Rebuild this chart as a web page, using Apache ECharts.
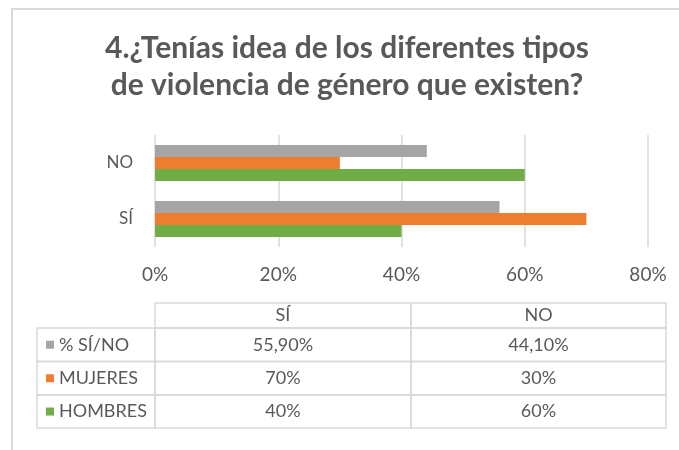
<!DOCTYPE html>
<html><head><meta charset="utf-8">
<script src="https://cdn.jsdelivr.net/npm/echarts@6/dist/echarts.min.js"></script>
<style>html,body{margin:0;padding:0;background:#fff}#c{width:679px;height:450px}</style>
</head><body><div id="c"></div>
<script>
// ---- data ----
const titleLines = ['4.¿Tenías idea de los diferentes tipos', 'de violencia de género que existen?'];
const categories = ['SÍ', 'NO'];
const seriesNames = ['% SÍ/NO', 'MUJERES', 'HOMBRES'];
const pctSiNo = [55.9, 44.1];
const mujeres = [70, 30];
const hombres = [40, 60];
const xTicks = [0, 20, 40, 60, 80];

// ---- style ----
const colors = ['#A5A5A5', '#ED7D31', '#70AD47'];
const txt = '#595959';
const lineC = '#D9D9D9';
const font = 'Lato, "Open Sans", sans-serif';
const seriesValues = [pctSiNo, mujeres, hombres];

function fmt(v) {
  return Number.isInteger(v) ? v + '%' : v.toFixed(2).replace('.', ',') + '%';
}

const chart = echarts.init(document.getElementById('c'), null, {renderer: 'canvas'});

// table geometry
const tX0 = 37, tX1 = 155, tX2 = 411, tX3 = 666;
const hdrY = 303, rowY = [328, 361.5, 395, 428];
const g = [];
// outer frame
g.push({type: 'rect', shape: {x: 12, y: 9, width: 700, height: 500}, style: {fill: null, stroke: lineC, lineWidth: 2}, silent: true});
// header cells
[[tX1, tX2], [tX2, tX3]].forEach((c, j) => {
  g.push({type: 'rect', shape: {x: c[0], y: hdrY, width: c[1] - c[0], height: rowY[0] - hdrY}, style: {fill: null, stroke: lineC, lineWidth: 1.5}, silent: true});
  g.push({type: 'text', x: (c[0] + c[1]) / 2, y: (hdrY + rowY[0]) / 2, style: {text: categories[j], fill: txt, font: '18px ' + font, align: 'center', verticalAlign: 'middle'}, silent: true});
});
seriesNames.forEach((name, i) => {
  const y0 = rowY[i], y1 = rowY[i + 1], ym = (y0 + y1) / 2;
  [[tX0, tX1], [tX1, tX2], [tX2, tX3]].forEach(c => {
    g.push({type: 'rect', shape: {x: c[0], y: y0, width: c[1] - c[0], height: y1 - y0}, style: {fill: null, stroke: lineC, lineWidth: 1.5}, silent: true});
  });
  g.push({type: 'rect', shape: {x: 46, y: ym - 4, width: 8, height: 8}, style: {fill: colors[i]}, silent: true});
  g.push({type: 'text', x: 59, y: ym, style: {text: name, fill: txt, font: '18px ' + font, align: 'left', verticalAlign: 'middle'}, silent: true});
  g.push({type: 'text', x: (tX1 + tX2) / 2, y: ym, style: {text: fmt(seriesValues[i][0]), fill: txt, font: '18px ' + font, align: 'center', verticalAlign: 'middle'}, silent: true});
  g.push({type: 'text', x: (tX2 + tX3) / 2, y: ym, style: {text: fmt(seriesValues[i][1]), fill: txt, font: '18px ' + font, align: 'center', verticalAlign: 'middle'}, silent: true});
});
// title
titleLines.forEach((t, i) => {
  g.push({type: 'text', x: 347, y: 48 + i * 37, style: {text: t, fill: txt, font: 'bold 30px ' + font, align: 'center', verticalAlign: 'middle'}, silent: true});
});

chart.setOption({
  animation: false,
  backgroundColor: '#fff',
  grid: {left: 155, right: 31, top: 135, bottom: 203, containLabel: false},
  xAxis: {
    type: 'value', min: xTicks[0], max: xTicks[xTicks.length - 1], interval: xTicks[1] - xTicks[0],
    axisLine: {show: false}, axisTick: {show: false},
    axisLabel: {formatter: '{value}%', color: txt, fontSize: 19, fontFamily: font, margin: 18},
    splitLine: {show: true, lineStyle: {color: lineC, width: 1.5}}
  },
  yAxis: {
    type: 'category', data: categories,
    axisLine: {show: false}, axisTick: {show: false},
    axisLabel: {color: txt, fontSize: 17, fontFamily: font, margin: 22}
  },
  series: seriesNames.map((n, i) => ({
    name: n, type: 'bar', data: seriesValues[i],
    itemStyle: {color: colors[i]},
    barGap: '0%', barCategoryGap: '36%'
  })),
  graphic: g
});
</script>
</body></html>
